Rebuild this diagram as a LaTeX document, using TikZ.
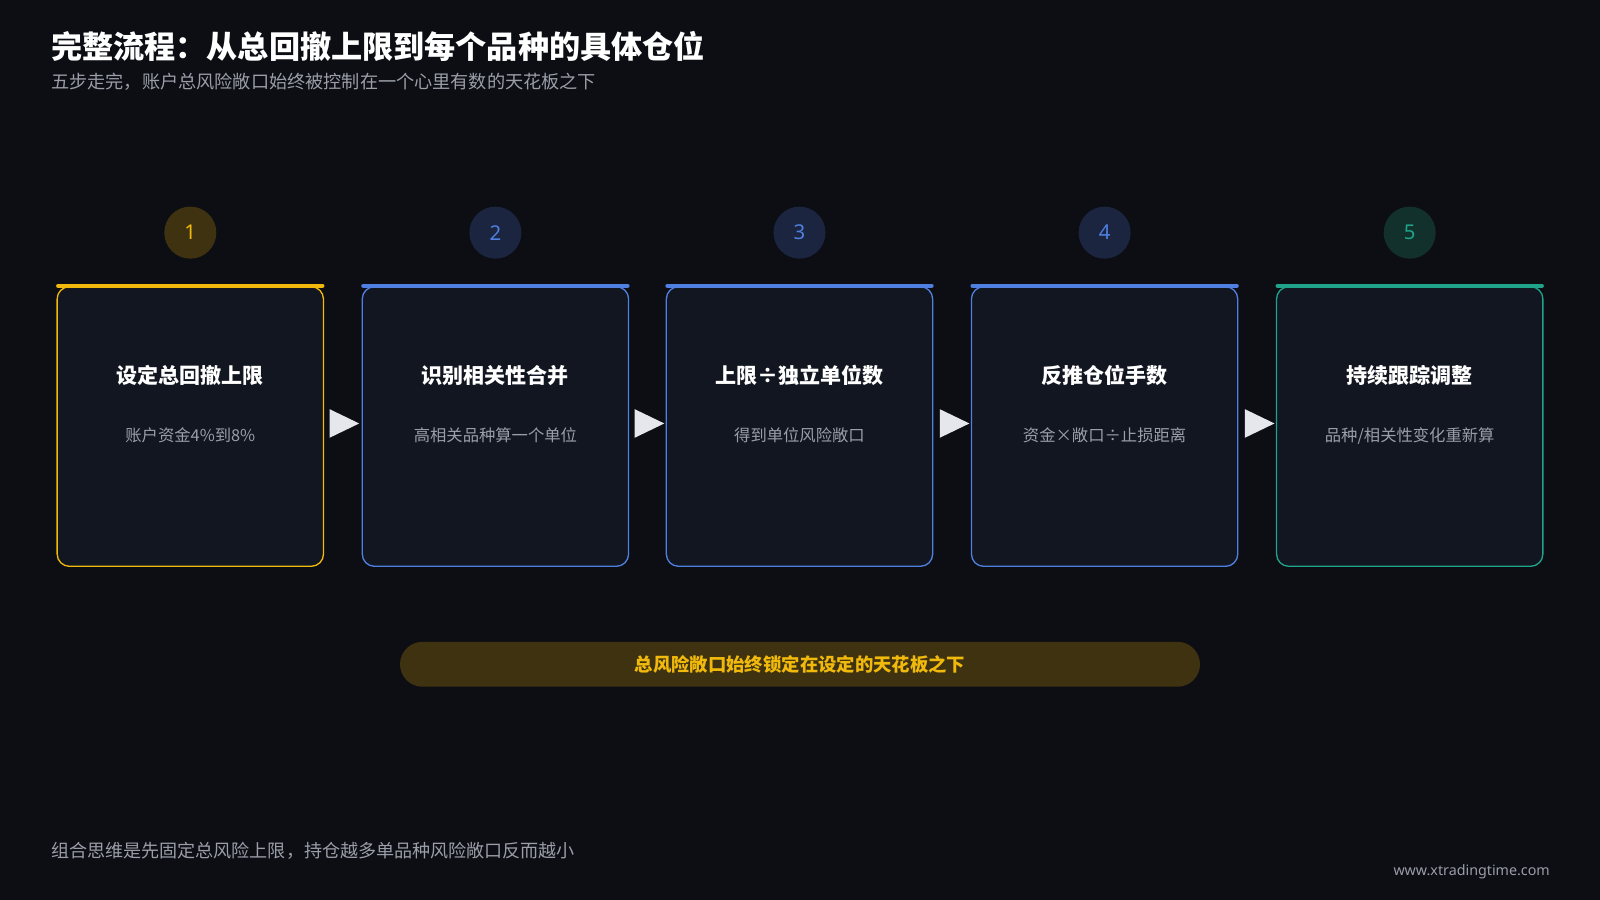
\documentclass[tikz,border=0pt]{standalone}
\usepackage{fontspec}
\setmainfont{Noto Sans CJK SC}
\newfontfamily\latinf{Noto Sans}
\begin{document}
\begin{tikzpicture}[x=1pt,y=-1pt,
  box/.style={draw=#1,line width=1.3pt,rounded corners=12pt,fill=boxbg},
  topbar/.style={draw=#1,line width=4pt,line cap=round},
  num/.style={circle,minimum size=51pt,inner sep=0pt,fill=#1},
  ttl/.style={text=white,font=\fontsize{20.6}{24}\selectfont\bfseries},
  sub/.style={text=subgray,font=\fontsize{16}{19}\selectfont},
  tri/.style={fill=triw}]
\definecolor{bg}{HTML}{0D0E14}
\definecolor{boxbg}{HTML}{121620}
\definecolor{cy}{HTML}{F0B90B}
\definecolor{cb}{HTML}{4F7FE0}
\definecolor{cg}{HTML}{1FA38A}
\definecolor{subgray}{HTML}{9A9EA8}
\definecolor{triw}{HTML}{E6E7EC}
\definecolor{ny}{HTML}{3E3210}
\definecolor{nb}{HTML}{1B2540}
\definecolor{ng}{HTML}{12302C}
\fill[bg] (0,0) rectangle (1568,882);
\useasboundingbox (0,0) rectangle (1568,882);
\node[anchor=west,inner sep=0pt,text=white,font=\fontsize{30.5}{34}\selectfont\bfseries] (title) at (50,46) {完整流程：从总回撤上限到每个品种的具体仓位};
\node[anchor=west,inner sep=0pt,text=subgray,font=\fontsize{17.8}{20}\selectfont] (subt) at (50,80) {五步走完，账户总风险敞口始终被控制在一个心里有数的天花板之下};
\foreach \i/\x/\c/\n/\t/\s in {
 1/56/cy/ny/{设定总回撤上限}/{账户资金4\%到8\%},
 2/355/cb/nb/{识别相关性合并}/{高相关品种算一个单位},
 3/653/cb/nb/{上限÷独立单位数}/{得到单位风险敞口},
 4/952/cb/nb/{反推仓位手数}/{资金×敞口÷止损距离},
 5/1251/cg/ng/{持续跟踪调整}/{品种/相关性变化重新算}}{
  \draw[box=\c] (\x,281) rectangle ++(261,274);
  \draw[topbar=\c] (\x+1,280) -- ++(259,0);
  \node[num=\n,text=\c,font=\latinf\fontsize{20}{22}\selectfont] (n\i) at (\x+130.5,228) {\i};
  \node[ttl] (t\i) at (\x+130.5,368) {\t};
  \node[sub] (s\i) at (\x+130.5,427) {\s};
}
\foreach \i/\x in {1/323,2/622,3/921,4/1220}{
  \coordinate (a\i) at (\x,415);
  \fill[tri] (a\i) ++(0,-14) -- ++(29,14) -- ++(-29,14) -- cycle;
}
\node[fill=ny,rounded corners=22pt,minimum width=784pt,minimum height=44pt,text=cy,font=\fontsize{18}{21}\selectfont\bfseries] (banner) at (784,651) {总风险敞口始终锁定在设定的天花板之下};
\node[anchor=west,inner sep=0pt,text=subgray,font=\fontsize{17.7}{20}\selectfont] (foot) at (50,834) {组合思维是先固定总风险上限，持仓越多单品种风险敞口反而越小};
\node[anchor=east,inner sep=0pt,text=subgray,font=\latinf\fontsize{14}{16}\selectfont] (url) at (1519,854) {www.xtradingtime.com};
\end{tikzpicture}
\end{document}
